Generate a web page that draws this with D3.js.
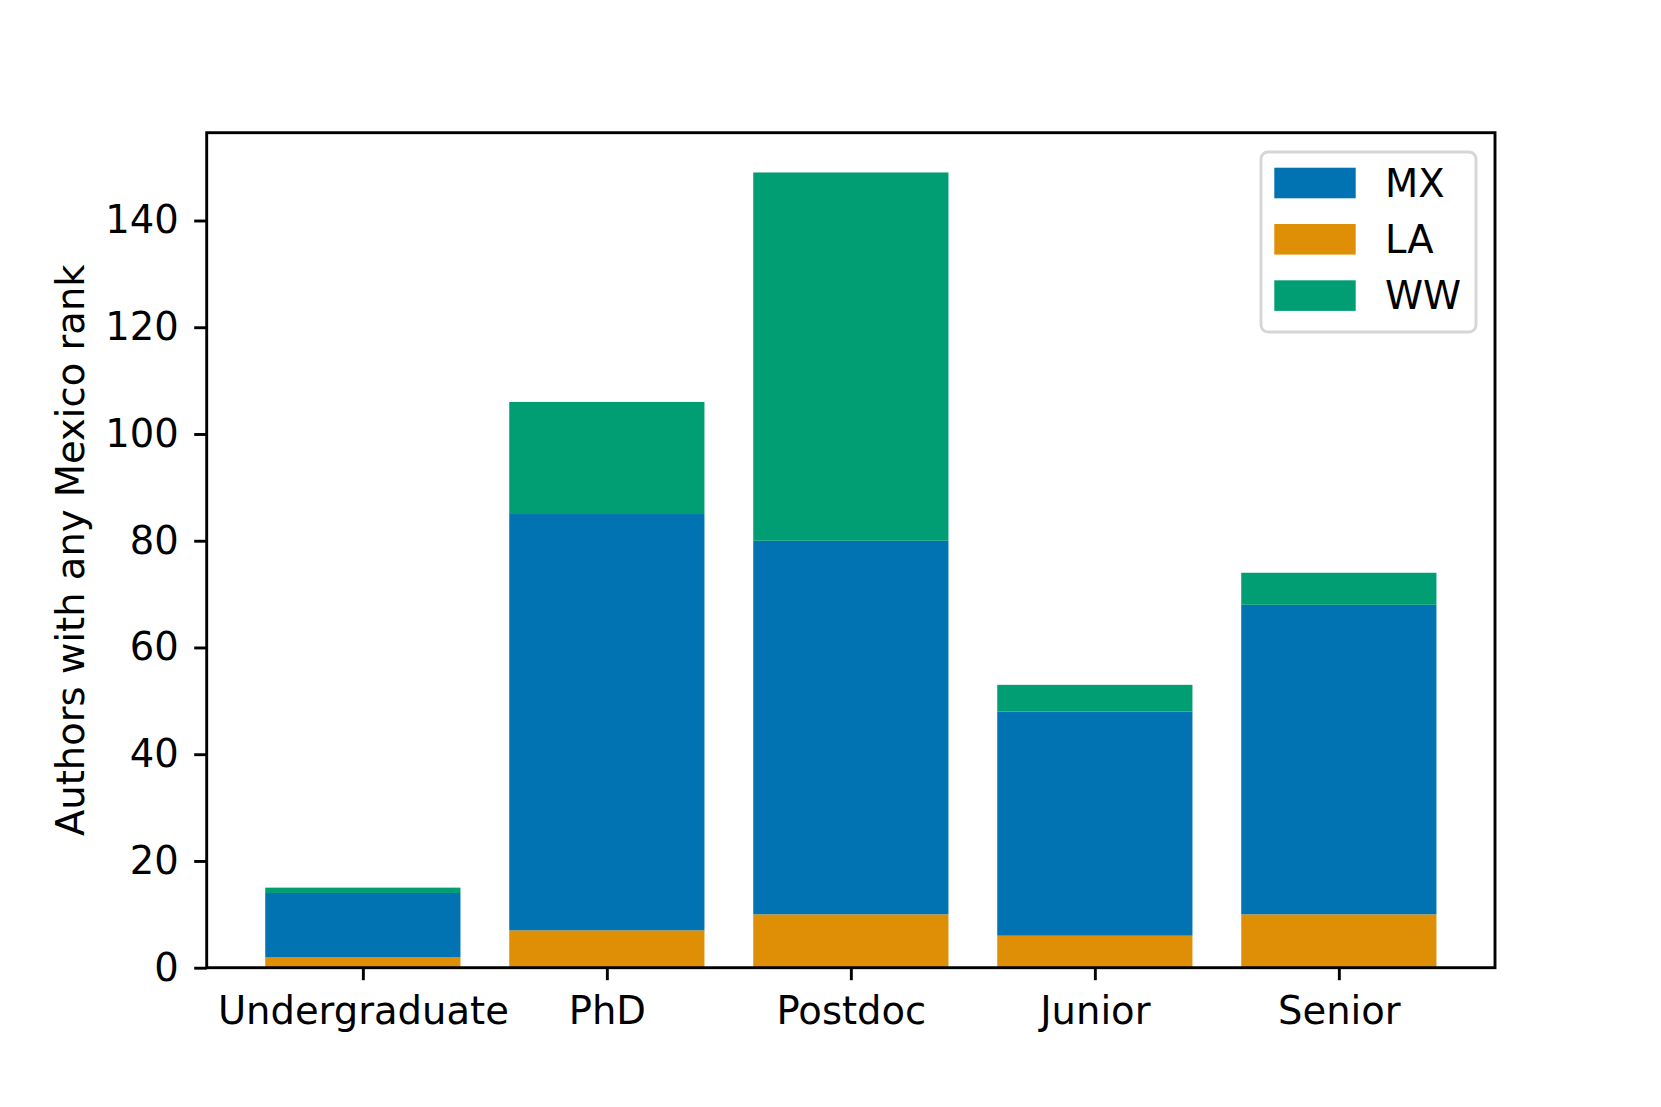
<!DOCTYPE html>
<html>
<head>
<meta charset="utf-8">
<script src="https://cdn.jsdelivr.net/npm/d3@7"></script>
<style>
  body { margin: 0; background: #fff; }
  text { font-family: "DejaVu Sans", sans-serif; fill: #000; }
</style>
</head>
<body>
<div id="chart"></div>
<script>
const categories = ["Undergraduate", "PhD", "Postdoc", "Junior", "Senior"];
const seriesNames = ["LA", "MX", "WW"];
const laValues = [2, 7, 10, 6, 10];
const mxValues = [12, 78, 70, 42, 58];
const wwValues = [1, 21, 69, 5, 6];
const yTicks = [0, 20, 40, 60, 80, 100, 120, 140];
const legendOrder = ["MX", "LA", "WW"];

const colors = { MX: "#0173b2", LA: "#de8f05", WW: "#029e73" };

const width = 1661, height = 1107;
const margin = { left: 206.7, top: 132.7, right: 1661 - 1495, bottom: 1107 - 967.7 };
const fs = 38.5;

const svg = d3.select("#chart")
    .append("svg")
    .attr("width", width)
    .attr("height", height)
    .style("background", "#ffffff");

// rows for the stack
const rows = categories.map((c, i) => ({ cat: c, LA: laValues[i], MX: mxValues[i], WW: wwValues[i] }));
const stacked = d3.stack().keys(seriesNames)(rows);

const total = d3.max(rows, d => d.LA + d.MX + d.WW);

// x in matplotlib units: bars at 0..4 width 0.8, 5% margin
const x = d3.scaleLinear()
    .domain([-0.4 - 0.24, 4.4 + 0.24])
    .range([margin.left, width - margin.right]);
const y = d3.scaleLinear()
    .domain([0, total * 1.05])
    .range([height - margin.bottom, margin.top]);

const g = svg.append("g");

stacked.forEach(layer => {
    g.selectAll(null)
        .data(layer)
        .enter()
        .append("rect")
        .attr("x", (d, i) => x(i - 0.4))
        .attr("width", x(0.8) - x(0))
        .attr("y", d => y(d[1]))
        .attr("height", d => y(d[0]) - y(d[1]))
        .attr("fill", colors[layer.key]);
});

// y axis
const yAxis = d3.axisLeft(y)
    .tickValues(yTicks)
    .tickSize(12.5)
    .tickPadding(15.5);
const ya = svg.append("g")
    .attr("transform", `translate(${margin.left},0)`)
    .call(yAxis);
ya.select(".domain").remove();
ya.selectAll(".tick line").attr("stroke", "#000").attr("stroke-width", 2.9);
ya.selectAll(".tick text")
    .attr("font-size", fs)
    .attr("font-family", "DejaVu Sans")
    .attr("fill", "#000");

// x axis
const xAxis = d3.axisBottom(x)
    .tickValues(d3.range(categories.length))
    .tickFormat(i => categories[i])
    .tickSize(12.5)
    .tickPadding(16);
const xa = svg.append("g")
    .attr("transform", `translate(0,${height - margin.bottom})`)
    .call(xAxis);
xa.select(".domain").remove();
xa.selectAll(".tick line").attr("stroke", "#000").attr("stroke-width", 2.9);
xa.selectAll(".tick text")
    .attr("font-size", fs)
    .attr("font-family", "DejaVu Sans")
    .attr("fill", "#000");

// frame
svg.append("rect")
    .attr("x", margin.left)
    .attr("y", margin.top)
    .attr("width", width - margin.right - margin.left)
    .attr("height", height - margin.bottom - margin.top)
    .attr("fill", "none")
    .attr("stroke", "#000")
    .attr("stroke-width", 2.9);

// y label
svg.append("text")
    .attr("transform", `translate(84,${(margin.top + height - margin.bottom) / 2}) rotate(-90)`)
    .attr("text-anchor", "middle")
    .attr("font-size", fs)
    .text("Authors with any Mexico rank");

// legend
const leg = svg.append("g");
leg.append("rect")
    .attr("x", 1261)
    .attr("y", 152)
    .attr("width", 215)
    .attr("height", 180)
    .attr("rx", 7)
    .attr("fill", "#fff")
    .attr("fill-opacity", 0.8)
    .attr("stroke", "#d6d6d6")
    .attr("stroke-width", 2.9);

legendOrder.forEach((name, i) => {
    const cy = 183 + i * 56.3;
    leg.append("rect")
        .attr("x", 1274.3)
        .attr("y", cy - 15.3)
        .attr("width", 81.4)
        .attr("height", 30.6)
        .attr("fill", colors[name]);
    leg.append("text")
        .attr("x", 1385)
        .attr("y", cy)
        .attr("dy", "0.36em")
        .attr("font-size", fs)
        .text(name);
});
</script>
</body>
</html>
